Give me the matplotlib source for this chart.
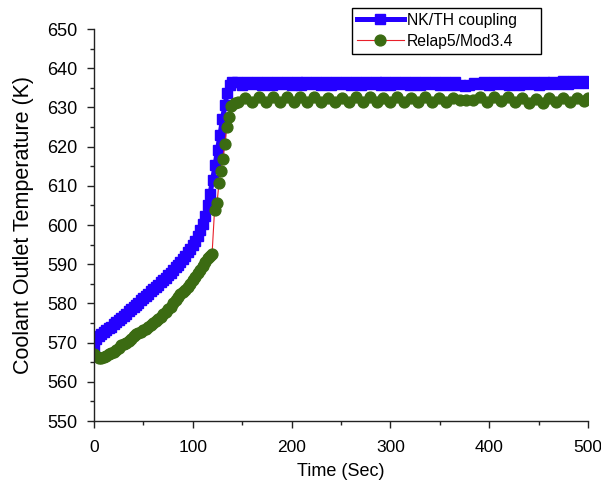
import numpy as np
import matplotlib
matplotlib.use('Agg')
import matplotlib.pyplot as plt
from matplotlib.ticker import MultipleLocator

plt.rcParams['font.family'] = ['Liberation Sans', 'DejaVu Sans']

# NK/TH coupling (blue squares)
t_nk = [0, 2.5, 5, 7.5, 10, 12.5, 15, 17.5, 20, 22.5, 25, 27.5, 30, 32.5, 35, 37.5,
        40, 42.5, 45, 47.5, 50, 52.5, 55, 57.5, 60, 62.5, 65, 67.5, 70, 72.5, 75,
        77.5, 80, 82.5, 85, 87.5, 90, 92.5, 95, 97.5, 100, 102.5, 105, 107.5, 110,
        112.5, 115, 117.5, 120, 122.5, 125, 127.5, 130, 132.5, 135, 137.5, 140,
        145, 150, 155, 160, 165, 170, 175, 180, 185, 190,
        195, 200, 205, 210, 215, 220, 225, 230, 235, 240,
        245, 250, 255, 260, 265, 270, 275, 280, 285, 290,
        295, 300, 305, 310, 315, 320, 325, 330, 335, 340,
        345, 350, 355, 360, 365, 370, 375, 380, 385, 390,
        395, 400, 405, 410, 415, 420, 425, 430, 435, 440,
        445, 450, 455, 460, 465, 470, 475, 480, 485, 490,
        495, 500]
T_nk = [568.5, 570.8, 571.8, 572.2, 572.6, 573.1, 573.6, 574.1, 574.7, 575.2,
        575.8, 576.3, 576.9, 577.4, 578.0, 578.5, 579.1, 579.6, 580.2, 580.8,
        581.4, 581.9, 582.5, 583.1, 583.7, 584.2, 584.8, 585.4, 586.0, 586.6,
        587.2, 587.8, 588.5, 589.2, 589.9, 590.6, 591.4, 592.2, 593.0, 593.9,
        594.9, 596.0, 597.3, 598.8, 600.2,
        602.3, 605.0, 608.0, 611.5, 615.2, 619.2, 623.0, 627.0, 630.6, 633.8,
        635.8, 636.4,
        636.6, 635.8, 636.5, 635.9, 636.6, 635.8, 636.5, 635.8, 636.6, 635.9,
        636.5, 635.8, 636.6, 635.8, 636.5, 635.9, 636.6, 635.8, 636.5, 635.8,
        636.6, 635.9, 636.5, 635.8, 636.6, 635.8, 636.5, 635.9, 636.6, 635.8,
        636.5, 635.8, 636.6, 635.9, 636.5, 635.8, 636.6, 635.8, 636.5, 635.9,
        636.6, 635.8, 636.5, 635.8, 636.4, 635.6, 635.4, 635.6, 636.3, 635.9,
        636.6, 635.8, 636.5, 635.9, 636.6, 635.8, 636.5, 635.8, 636.6, 635.9,
        636.5, 635.8, 636.6, 635.9, 636.6, 635.9, 636.7, 636.0, 636.8, 636.1,
        636.8, 636.2]

# Relap5/Mod3.4 (green circles)
t_rel = [0, 2.5, 5, 7.5, 10, 12.5, 15, 17.5, 20, 22.5, 25, 27.5, 30, 32.5, 35, 37.5,
         40, 42.5, 45, 47.5, 50, 52.5, 55, 57.5, 60, 62.5, 65, 67.5, 70, 72.5, 75,
         77.5, 80, 82.5, 85, 87.5, 90, 92.5, 95, 97.5, 100, 102.5, 105, 107.5, 110,
         112.5, 115, 117.5, 119.5,
         122, 124.5, 126.5, 128.5, 130.5, 132.5, 134.5, 136.5, 138.5, 142.5,
         146, 153, 160, 167, 174, 181, 188, 195, 202, 209,
         216, 223, 230, 237, 244, 251, 258, 265, 272, 279,
         286, 293, 300, 307, 314, 321, 328, 335, 342, 349,
         356, 363, 370, 377, 384, 391, 398, 405, 412, 419,
         426, 433, 440, 447, 454, 461, 468, 475, 482, 489,
         496, 500]
T_rel = [567.0, 566.6, 566.2, 566.1, 566.4, 566.7, 567.1, 567.4, 567.7, 568.2,
         568.7, 569.3, 569.6, 569.9, 570.4, 571.0, 571.6, 572.1, 572.4, 572.7,
         573.1, 573.5, 574.0, 574.4, 574.9, 575.4, 576.0, 576.6, 577.2, 577.8,
         578.5, 579.2, 580.0, 580.9, 581.7, 582.3, 582.8, 583.3, 584.1, 585.0,
         585.9, 586.8, 587.7, 588.5, 589.6, 590.6, 591.5, 592.2, 592.6,
         603.8, 605.5, 610.8, 613.9, 616.9, 620.7, 625.1, 627.5, 630.4, 631.0,
         631.3, 632.5, 631.5, 632.6, 631.5, 632.6, 631.4, 632.6, 631.5, 632.6,
         631.4, 632.6, 631.5, 632.5, 631.4, 632.5, 631.4, 632.6, 631.5, 632.6,
         631.4, 632.5, 631.5, 632.6, 631.4, 632.5, 631.5, 632.6, 631.4, 632.5,
         631.5, 632.4, 631.8, 632.0, 631.9, 632.6, 631.5, 632.7, 631.6, 632.6,
         631.3, 632.4, 631.0, 632.2, 631.2, 632.3, 631.3, 632.4, 631.4, 632.5,
         631.6, 632.3]

fig = plt.figure(figsize=(6.01, 4.90), dpi=100)
ax = fig.add_axes([0.1564, 0.1408, 0.822, 0.80])

ax.plot(t_nk, T_nk, color='#2400ff', lw=3.6, marker='s', ms=7,
        mec='#2400ff', mfc='#2400ff', label='NK/TH coupling')
ax.plot(t_rel, T_rel, color='#e8202a', lw=0.8, marker='o', ms=7.8,
        mec='#3b6b12', mfc='#3b6b12', label='Relap5/Mod3.4')

ax.set_xlim(0, 500)
ax.set_ylim(550, 650)
ax.xaxis.set_major_locator(MultipleLocator(100))
ax.xaxis.set_minor_locator(MultipleLocator(50))
ax.yaxis.set_major_locator(MultipleLocator(10))
ax.yaxis.set_minor_locator(MultipleLocator(5))

for s in ['top', 'right']:
    ax.spines[s].set_visible(False)
for s in ['left', 'bottom']:
    ax.spines[s].set_linewidth(1.0)
    ax.spines[s].set_color('#222222')

ax.tick_params(which='major', direction='out', length=5, width=1, labelsize=13, color='#222222')
ax.tick_params(which='minor', direction='out', length=3, width=1, color='#222222')
ax.tick_params(axis='x', which='major', pad=8.5, labelsize=12.5)
ax.tick_params(axis='y', which='major', pad=7)

ax.set_xlabel('Time (Sec)', fontsize=13, labelpad=6)
ax.set_ylabel('Coolant Outlet Temperature (K)', fontsize=15.5, labelpad=9)

leg = ax.legend(loc='upper left', mode='expand',
                bbox_to_anchor=(352 / 601, 1 - 55 / 490, 189 / 601, 47 / 490),
                bbox_transform=fig.transFigure, fontsize=11.3, frameon=True,
                fancybox=False, edgecolor='black', framealpha=1,
                handlelength=3, borderpad=0.3, labelspacing=0.4,
                handletextpad=0.2, borderaxespad=0)
leg.get_frame().set_linewidth(1.0)

fig.savefig('out.png', dpi=100)
